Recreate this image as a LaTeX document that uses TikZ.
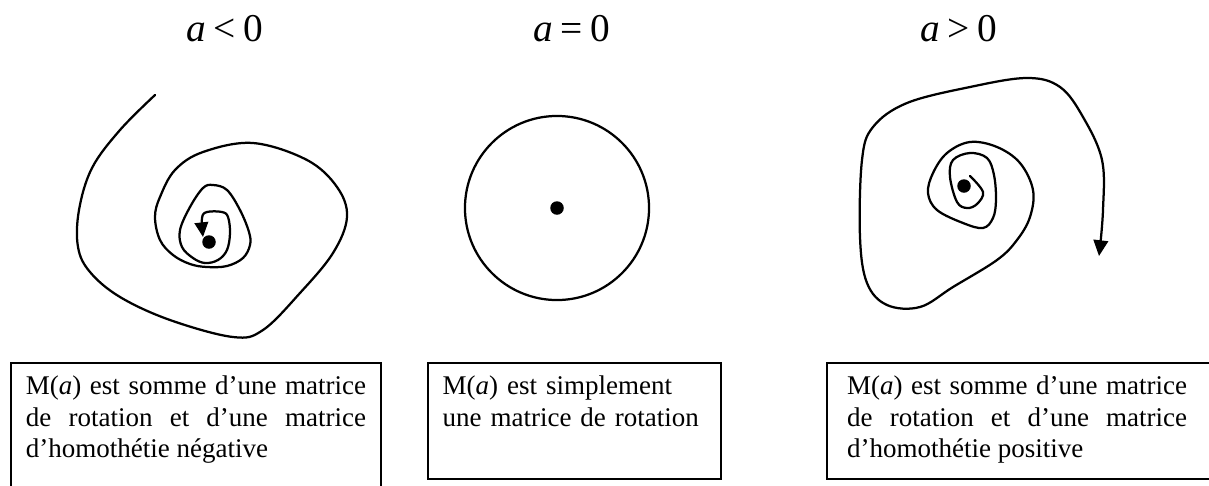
\documentclass[tikz,border=0pt]{standalone}
\usepackage{fontspec}
\setmainfont{Liberation Serif}
\usetikzlibrary{arrows.meta}
\tolerance=10000
\hyphenpenalty=10000

\begin{document}
\begin{tikzpicture}[x=0.4444pt, y=-0.4444pt,
    spir/.style={line width=1pt, line join=round, line cap=round},
    hlab/.style={anchor=base, font=\fontsize{17.5}{20}\selectfont},
    rbox/.style={draw, line width=0.8pt, anchor=north west, inner xsep=6.7pt,
      inner ysep=4.4pt, text height=9.8pt, text depth=32.9pt, text width=151.1pt,
      align=justify, font=\fontsize{12}{14}\selectfont},
    fixpt/.style={circle, fill, inner sep=0pt, minimum size=6pt}
  ]
  \clip (0,0) rectangle (1209,485);
  % titres
  \node[hlab] (hneg) at (225,41) {\textit{a}\hspace{.2em}<\hspace{.2em}0};
  \node[hlab] (hzero) at (572,41) {\textit{a}\hspace{.2em}=\hspace{.2em}0};
  \node[hlab] (hpos) at (959,41) {\textit{a}\hspace{.2em}>\hspace{.2em}0};
  % a < 0
  \draw[spir, -{Triangle[length=6.5pt, width=6pt]}] plot[smooth, tension=0.6] coordinates {
    (155,95) (120,130) (92,168) (79,210) (78,247) (90,272) (120,297) (170,320)
    (233,337) (263,330) (300,293) (333,253) (347,217) (337,187) (307,160) (253,143)
    (203,152) (175,170) (160,197) (155,217) (160,240) (173,255) (190,264) (207,267)
    (227,266) (243,258) (250,245) (249,232) (240,210) (227,190) (213,185) (203,188)
    (190,207) (180,230) (182,247) (193,258) (205,263) (218,260) (227,250) (230,233)
    (228,217) (222,212) (207,212) (202,218) (203,237)};
  \node[fixpt] (dneg) at (209,242) {};
  % a = 0
  \node[circle, draw, line width=1pt, minimum size=81.8pt, inner sep=0pt] (orbit) at (557,208) {};
  \node[fixpt] (dzero) at (orbit.center) {};
  % a > 0
  \draw[spir, -{Triangle[length=7pt, width=6.5pt]}] plot[smooth, tension=0.6] coordinates {
    (970,176) (983,192) (977,204) (967,208) (957,202) (950,177) (953,160) (970,153)
    (987,158) (994,175) (996,200) (993,218) (983,228) (963,223) (937,210) (928,193)
    (933,173) (947,153) (970,142) (997,147) (1020,163) (1033,190) (1030,217) (1017,240)
    (997,260) (953,287) (920,307) (887,305) (867,283) (860,237) (862,160) (873,127)
    (907,103) (970,87) (1027,78) (1060,87) (1083,117) (1102,160) (1103,210) (1099,256)};
  \node[fixpt] (dpos) at (964,186) {};
  % legendes
  \node[rbox, text depth=60pt] (bneg) at (10,362)
    {M(\textit{a}) est somme d’une matrice de rotation et d’une matrice d’homothétie négative};
  \node[rbox, text width=117.3pt, inner xsep=6.5pt, align=left] (bzero) at (427,362)
    {M(\textit{a}) est simplement une matrice de rotation};
  \node[rbox, text width=162pt, inner xsep=9pt] (bpos) at (826,362)
    {\parbox[t]{151.1pt}{\spaceskip=0pt\xspaceskip=0pt M(\textit{a}) est somme d’une matrice de rotation et d’une matrice d’homothétie positive}};
\end{tikzpicture}
\end{document}
